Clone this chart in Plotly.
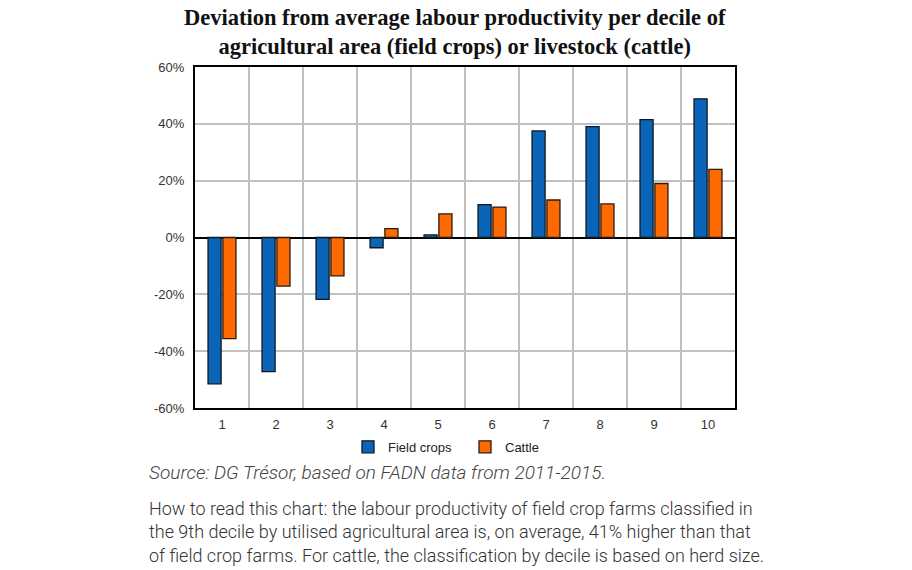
import plotly.graph_objects as go

deciles = [1, 2, 3, 4, 5, 6, 7, 8, 9, 10]
tick_labels = ["1", "2", "3", "4", "5", "6", "7", "8", "9", "10"]
y_tickvals = [-60, -40, -20, 0, 20, 40, 60]
y_ticktext = ["-60%", "-40%", "-20%", "0%", "20%", "40%", "60%"]
field_crops = [-51.5, -47.2, -21.8, -3.6, 0.9, 11.6, 37.5, 39.0, 41.5, 48.8]
cattle = [-35.6, -17.1, -13.5, 3.1, 8.3, 10.7, 13.2, 11.8, 19.0, 24.0]

blue = "#0A64B8"
orange = "#FF6A00"

fig = go.Figure()
fig.add_trace(go.Bar(x=deciles, y=field_crops, name="Field crops",
                     marker=dict(color=blue, line=dict(color="#101820", width=1.3))))
fig.add_trace(go.Bar(x=deciles, y=cattle, name="Cattle",
                     marker=dict(color=orange, line=dict(color="#2a1a10", width=1.3))))

fig.update_layout(
    width=912, height=570,
    margin=dict(l=195, r=177, t=67, b=162),
    paper_bgcolor="white", plot_bgcolor="white",
    barmode="group", bargap=0.45, bargroupgap=0.12,
    font=dict(family="Liberation Sans, Arial", size=13, color="#333"),
    legend=dict(orientation="h", x=0.5, xanchor="center", y=-0.07, yanchor="top",
                font=dict(size=13, color="#222"), itemwidth=30, traceorder="normal",
                entrywidth=72, entrywidthmode="pixels"),
    showlegend=True,
)
fig.update_xaxes(
    range=[0.5, 10.5], tickvals=deciles, ticktext=tick_labels,
    showgrid=False, ticks="", showline=True, linecolor="black", linewidth=2, mirror=True,
    zeroline=False, ticklabelstandoff=3,
    minor=dict(tickmode="array", tickvals=[1.5, 2.5, 3.5, 4.5, 5.5, 6.5, 7.5, 8.5, 9.5],
               showgrid=True, gridcolor="#c0c0c0", gridwidth=1.5, ticks=""),
    tickfont=dict(size=13, color="#333"),
)
fig.update_yaxes(
    range=[-60, 60], tickvals=y_tickvals, ticktext=y_ticktext,
    showgrid=True, gridcolor="#c0c0c0", gridwidth=1.5,
    zeroline=True, zerolinecolor="black", zerolinewidth=2,
    showline=True, linecolor="black", linewidth=2, mirror=True, ticks="",
    ticklabelstandoff=6,
    tickfont=dict(size=13, color="#333"),
)

fig.add_annotation(text="<b>Deviation from average labour productivity per decile of<br>agricultural area (field crops) or livestock (cattle)</b>",
                   xref="paper", yref="paper", x=0.4815, y=1.104, xanchor="center", yanchor="middle",
                   showarrow=False, align="center",
                   font=dict(family="Liberation Serif, serif", size=22.5, color="#111"))
fig.add_annotation(text="<i>Source: DG Trésor, based on FADN data from 2011-2015.</i>",
                   xref="paper", yref="paper", x=-0.0889, y=-0.1877, xanchor="left", yanchor="middle",
                   showarrow=False, align="left",
                   font=dict(family="Roboto", size=19, color="#444", weight=300))
fig.add_annotation(text="How to read this chart: the labour productivity of field crop farms classified in<br>"
                        "the 9th decile by utilised agricultural area is, on average, 41% higher than that<br>"
                        "of field crop farms. For cattle, the classification by decile is based on herd size.",
                   xref="paper", yref="paper", x=-0.0889, y=-0.3636, xanchor="left", yanchor="middle",
                   showarrow=False, align="left",
                   font=dict(family="Roboto", size=18, color="#333", weight=300))

fig.write_html("out.html")
